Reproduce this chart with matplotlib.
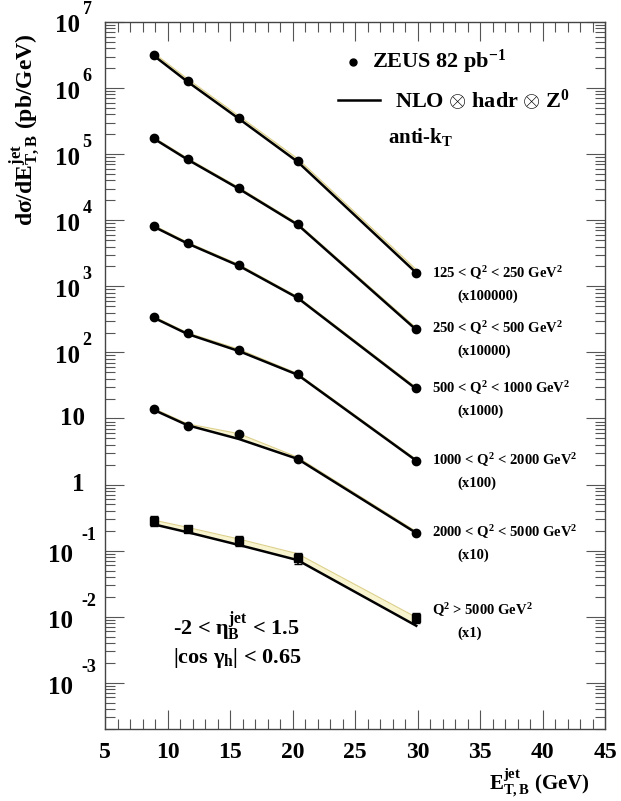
import matplotlib
matplotlib.use("Agg")
import matplotlib.pyplot as plt
import numpy as np
import matplotlib.transforms as mtrans
from matplotlib.ticker import MultipleLocator, LogLocator, NullFormatter

plt.rcParams['font.family'] = ['Liberation Serif', 'DejaVu Serif']
plt.rcParams['font.weight'] = 'bold'
plt.rcParams['mathtext.fontset'] = 'custom'
plt.rcParams['mathtext.rm'] = 'Liberation Serif:bold'
plt.rcParams['mathtext.it'] = 'Liberation Serif:bold'
plt.rcParams['mathtext.bf'] = 'Liberation Serif:bold'

# ---- data ----
et = [8.9, 11.6, 15.7, 20.4, 29.9]

data_s1 = [3.16e6, 1.28e6, 3.5e5, 7.8e4, 1.57e3]
data_s2 = [1.75e5, 8.4e4, 3.05e4, 8.7e3, 2.23e2]
data_s3 = [8.1e3, 4.5e3, 2.08e3, 6.8e2, 2.85e1]
data_s4 = [3.4e2, 1.94e2, 1.07e2, 4.65e1, 2.31]
data_s5 = [13.7, 7.8, 5.9, 2.48, 0.187]
data_s6 = [0.285, 0.215, 0.141, 0.078, 0.0097]
err_s6 = [0.05, 0.025, 0.025, 0.015, 0.0018]

theo_s1 = [3.1e6, 1.25e6, 3.45e5, 7.7e4, 1.6e3]
theo_s2 = [1.72e5, 8.3e4, 3.0e4, 8.6e3, 2.2e2]
theo_s3 = [8.0e3, 4.45e3, 2.05e3, 6.7e2, 2.8e1]
theo_s4 = [3.35e2, 1.9e2, 1.05e2, 4.6e1, 2.3]
theo_s5 = [13.5, 7.9, 4.9, 2.45, 0.185]
theo_s6 = [0.25, 0.19, 0.122, 0.072, 0.0073]

band_s1 = [3.4e6, 1.38e6, 3.8e5, 8.6e4, 1.8e3]
band_s2 = [1.8e5, 8.7e4, 3.15e4, 9.0e3, 2.35e2]
band_s3 = [8.4e3, 4.65e3, 2.15e3, 7.0e2, 2.95e1]
band_s4 = [3.5e2, 1.98e2, 1.12e2, 4.8e1, 2.4]
band_s5 = [14.2, 8.3, 5.9, 2.6, 0.195]
band_s6 = [0.29, 0.225, 0.15, 0.09, 0.0098]

labels_q2 = [r"125 < Q$^{2}$ < 250 GeV$^{2}$",
             r"250 < Q$^{2}$ < 500 GeV$^{2}$",
             r"500 < Q$^{2}$ < 1000 GeV$^{2}$",
             r"1000 < Q$^{2}$ < 2000 GeV$^{2}$",
             r"2000 < Q$^{2}$ < 5000 GeV$^{2}$",
             r"Q$^{2}$ > 5000 GeV$^{2}$"]
labels_scale = ["(x100000)", "(x10000)", "(x1000)", "(x100)", "(x10)", "(x1)"]
label_y = [1.6e3, 2.3e2, 2.9e1, 2.35, 0.19, 0.0125]

datas = [data_s1, data_s2, data_s3, data_s4, data_s5, data_s6]
theos = [theo_s1, theo_s2, theo_s3, theo_s4, theo_s5, theo_s6]
bands = [band_s1, band_s2, band_s3, band_s4, band_s5, band_s6]

fig = plt.figure(figsize=(6.21, 8.01), dpi=100)
ax = fig.add_axes([105/621, 1-729/801, 500/621, 707/801])
ax.set_yscale('log')
ax.set_xlim(5, 45)
ax.set_ylim(2e-4, 1e7)

for i, (d, t, b) in enumerate(zip(datas, theos, bands)):
    ax.fill_between(et, t, b, color='#f8f4d0', lw=0, zorder=1)
    ax.plot(et, b, color='#ddd08c', lw=0.8, zorder=2)
    ax.plot(et, t, color='black', lw=1.8, zorder=3)
    if i == 5:
        ax.errorbar(et, d, yerr=err_s6, fmt='s', color='black', ms=5.5,
                    capsize=3, elinewidth=1.2, zorder=4)
    else:
        ax.plot(et, d, 'o', color='black', ms=6, zorder=4)

off_lab = mtrans.ScaledTranslation(0, -23/100, fig.dpi_scale_trans)
for i in range(6):
    ax.text(31.2, label_y[i], labels_q2[i], fontsize=10.5, fontweight='bold',
            ha='left', va='center')
    ax.text(33.2, label_y[i], labels_scale[i], fontsize=10.5, fontweight='bold',
            ha='left', va='center', transform=ax.transData + off_lab)

# ticks
ax.xaxis.set_major_locator(MultipleLocator(5))
ax.xaxis.set_minor_locator(MultipleLocator(1))
ax.yaxis.set_major_locator(LogLocator(base=10, numticks=20))
ax.yaxis.set_minor_locator(LogLocator(base=10, subs=np.arange(2, 10), numticks=20))
ax.yaxis.set_major_formatter(NullFormatter())
ax.yaxis.set_minor_formatter(NullFormatter())
ax.tick_params(which='both', direction='in', top=True, right=True, width=0.8, color='#555555')
ax.tick_params(which='major', length=14)
ax.tick_params(which='minor', length=7)
ax.tick_params(axis='x', which='major', labelsize=17, pad=9)
for lab in ax.get_xticklabels():
    lab.set_fontweight('bold')
for sp in ax.spines.values():
    sp.set_linewidth(1.0)
    sp.set_color('#444444')

# custom y tick labels
tr = ax.get_yaxis_transform()
for e in range(-3, 8):
    y = 10.0**e
    if e == 0:
        ax.text(-0.04, y, "1", transform=tr, fontsize=18, fontweight='bold',
                ha='right', va='center')
    elif e == 1:
        ax.text(-0.04, y, "10", transform=tr, fontsize=18, fontweight='bold',
                ha='right', va='center')
    elif e > 1:
        off = mtrans.ScaledTranslation(0, -0.04, fig.dpi_scale_trans)
        ax.text(-0.05, y, "10", transform=tr + off, fontsize=18, fontweight='bold',
                ha='right', va='center')
        off2 = mtrans.ScaledTranslation(0, 0.12, fig.dpi_scale_trans)
        ax.text(-0.045, y, str(e), transform=tr + off2, fontsize=13, fontweight='bold',
                ha='left', va='center')
    else:
        off = mtrans.ScaledTranslation(0, -0.05, fig.dpi_scale_trans)
        ax.text(-0.065, y, "10", transform=tr + off, fontsize=18, fontweight='bold',
                ha='right', va='center')
        off2 = mtrans.ScaledTranslation(0, 0.15, fig.dpi_scale_trans)
        ax.text(-0.018, y, str(e), transform=tr + off2, fontsize=13, fontweight='bold',
                ha='right', va='center')

# axis labels
fig.text(25/621, 1-130/801, r"d$\sigma$/dE$^{\rm jet}_{\rm T,B}$ (pb/GeV)",
         rotation=90, fontsize=17, fontweight='bold', ha='center', va='center')
fig.text(590/621, 1-783/801, r"E$^{\rm jet}_{\rm T,B}$ (GeV)",
         fontsize=15, fontweight='bold', ha='right', va='center')

# legend
ax.plot([0.496], [0.944], 'o', color='black', ms=5, transform=ax.transAxes)
ax.text(0.534, 0.944, r"ZEUS 82 pb$^{-1}$", transform=ax.transAxes,
        fontsize=16, fontweight='bold', ha='left', va='center')
ax.plot([0.466, 0.55], [0.89, 0.89], color='black', lw=1.8, transform=ax.transAxes)
ax.text(0.58, 0.89, r"NLO $\otimes$ hadr $\otimes$ Z$^{0}$", transform=ax.transAxes,
        fontsize=16, fontweight='bold', ha='left', va='center')
ax.text(0.566, 0.838, r"anti-k$_{\rm T}$", transform=ax.transAxes,
        fontsize=15, fontweight='bold', ha='left', va='center')

# cuts
ax.text(0.136, 0.145, r"-2 < $\eta^{\rm jet}_{\rm B}$ < 1.5", transform=ax.transAxes,
        fontsize=16, fontweight='bold', ha='left', va='center')
ax.text(0.136, 0.101, r"|cos $\gamma_{\rm h}$| < 0.65", transform=ax.transAxes,
        fontsize=16, fontweight='bold', ha='left', va='center')

fig.savefig("out.png", dpi=100)
